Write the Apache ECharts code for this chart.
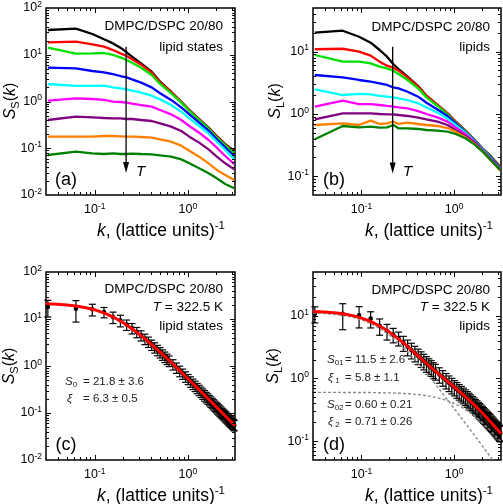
<!DOCTYPE html>
<html><head><meta charset="utf-8">
<script src="https://cdn.jsdelivr.net/npm/echarts@6.0.0/dist/echarts.min.js"></script>
<style>html,body{margin:0;padding:0;background:#fff}#c{width:503px;height:504px}</style>
</head><body><div id="c"></div>
<script>
// ---------- data ----------
// sampled wave numbers for panels (a) and (b)
const kS = [0.0314,0.0628,0.0942,0.1257,0.1571,0.1885,0.2199,0.2513,0.3142,0.4084,0.5027,0.6597,0.8482,1.0367,1.3195,1.6650,2.0420,2.5133,3.1416];
// panel (a) S_S(k), temperature increasing black -> dark green
const aBlack   = [33.8,36.1,27.8,21.4,17.5,14.2,11.3,9.1,6.55,4.34,2.66,1.62,0.99,0.657,0.422,0.276,0.183,0.123,0.088];
const aRed     = [18.4,19.05,16.7,14.9,12.6,10.7,9.4,7.98,6.14,4.14,2.57,1.60,0.976,0.647,0.415,0.271,0.180,0.119,0.0843];
const aGreen   = [14.2,10.55,10.7,10.9,9.88,8.80,7.72,6.77,5.29,3.69,2.37,1.50,0.944,0.626,0.402,0.262,0.171,0.115,0.0804];
const aBlue    = [5.29,5.12,4.49,4.21,3.87,3.51,3.29,2.98,2.53,2.01,1.50,1.08,0.750,0.531,0.352,0.238,0.155,0.105,0.0683];
const aCyan    = [2.37,2.15,2.15,2.18,2.01,1.91,1.82,1.70,1.55,1.33,1.11,0.841,0.606,0.436,0.299,0.208,0.138,0.0918,0.0579];
const aMagenta = [1.04,1.17,1.13,1.08,0.992,0.976,0.944,0.899,0.841,0.775,0.658,0.531,0.402,0.299,0.215,0.150,0.103,0.0683,0.0460];
const aPurple  = [0.402,0.474,0.458,0.444,0.436,0.436,0.422,0.422,0.402,0.383,0.341,0.290,0.234,0.177,0.132,0.0948,0.0661,0.0476,0.0354];
const aOrange  = [0.177,0.177,0.177,0.183,0.183,0.180,0.177,0.177,0.174,0.168,0.155,0.138,0.1136,0.0888,0.0661,0.0476,0.0343,0.0268,0.0209];
const aDkGreen = [0.0717,0.0845,0.0778,0.0753,0.0778,0.0753,0.0753,0.0765,0.0753,0.0741,0.0706,0.0661,0.0579,0.0476,0.0372,0.0291,0.0227,0.0172,0.0139];
// panel (b) S_L(k)
const bBlack   = [20.1,21.6,17.3,13.9,10.6,8.28,6.32,5.25,3.96,2.80,1.96,1.39,1.02,0.751,0.538,0.381,0.274,0.206,0.142];
const bRed     = [10.9,11.1,9.97,8.60,6.89,5.94,5.52,4.94,3.86,2.74,1.94,1.39,1.02,0.751,0.538,0.381,0.274,0.201,0.139];
const bGreen   = [8.81,6.89,6.89,6.48,5.72,5.38,4.94,4.37,3.50,2.57,1.84,1.34,0.984,0.723,0.532,0.377,0.270,0.199,0.137];
const bBlue    = [4.21,3.86,3.50,3.29,3.09,2.91,2.67,2.57,2.27,1.89,1.51,1.18,0.926,0.706,0.513,0.372,0.267,0.196,0.134];
const bCyan    = [2.48,2.01,2.09,2.06,1.94,1.89,1.84,1.78,1.67,1.48,1.27,1.05,0.839,0.664,0.500,0.363,0.264,0.191,0.131];
const bMagenta = [1.31,1.63,1.44,1.44,1.39,1.34,1.31,1.27,1.23,1.11,0.997,0.881,0.751,0.609,0.476,0.354,0.257,0.187,0.129];
const bPurple  = [0.818,1.02,1.02,1.02,0.997,0.984,0.984,0.960,0.926,0.870,0.818,0.751,0.664,0.552,0.442,0.346,0.254,0.182,0.129];
const bOrange  = [0.664,0.706,0.664,0.779,0.689,0.706,0.751,0.689,0.723,0.689,0.664,0.640,0.594,0.519,0.421,0.329,0.248,0.178,0.123];
const bDkGreen = [0.391,0.640,0.609,0.624,0.601,0.609,0.664,0.587,0.587,0.573,0.552,0.538,0.519,0.476,0.406,0.321,0.245,0.178,0.126];

// panels (c),(d): data points with error bars at T = 322.5 K
const kPts = [0.0314,0.0628,0.0942,0.1257,0.1571,0.1885,0.2199,0.2513,0.2827,0.3142,0.3456,0.3770,0.4084,0.4398,0.4712,0.5027,0.5341,0.5655,0.5969,0.6283,
  0.6912,0.7540,0.8168,0.8796,0.9425,1.0053,1.0681,1.1310,1.1938,1.2566,
  1.3195,1.3823,1.4451,1.5080,1.5708,1.6336,1.6965,1.7593,1.8221,1.8850,1.9478,2.0106,2.0735,2.1363,2.1991,2.2619,2.3248,2.3876,2.4504,2.5133,2.5761,2.6389,2.7018,2.7646,2.8274,2.8903,2.9531,3.0159,3.0788,3.1416];
const cVal = [18.0,16.6,16.1,14.1,11.0,9.4,7.6,6.4,5.3,4.5,3.8,3.3,2.85,2.5,2.2,1.97,1.76,1.58,1.43,1.30,
  1.09,0.925,0.79,0.69,0.60,0.53,0.47,0.42,0.38,0.342,
  0.311,0.284,0.260,0.239,0.220,0.204,0.189,0.176,0.164,0.1535,0.144,0.135,0.127,0.120,0.113,0.107,0.101,0.096,0.091,0.0866,0.0825,0.0786,0.075,0.0716,0.0685,0.0656,0.0628,0.0602,0.0578,0.0555];
const cErr = [7,8,4.5,3.5,3.0,2.6,1.9,1.6,1.3,1.1,0.95,0.82,0.71,0.62,0.55,0.49,0.44,0.40,0.36,0.33,
  0.27,0.23,0.2,0.17,0.15,0.13,0.118,0.105,0.095,0.085,
  0.078,0.071,0.065,0.06,0.055,0.051,0.047,0.044,0.041,0.038,0.036,0.034,0.032,0.03,0.028,0.027,0.025,0.024,0.023,0.022,0.021,0.0197,0.0188,0.0179,0.0171,0.0164,0.0157,0.015,0.0145,0.0139];
const dVal = [10.8,10.8,10.2,9.0,6.9,5.7,5.0,4.4,3.7,3.2,2.85,2.55,2.3,2.08,1.9,1.74,1.61,1.5,1.39,1.31,
  1.16,1.04,0.94,0.857,0.787,0.726,0.673,0.626,0.584,0.547,
  0.513,0.482,0.454,0.428,0.404,0.383,0.362,0.344,0.326,0.310,0.295,0.281,0.268,0.256,0.245,0.234,0.224,0.215,0.206,0.197,0.190,0.182,0.175,0.168,0.162,0.156,0.150,0.145,0.140,0.135];
const dErr = [3.1,4.8,3.8,2.6,2.0,1.6,1.3,1.1,1.0,0.9,0.8,0.71,0.64,0.58,0.53,0.49,0.45,0.42,0.39,0.37,
  0.32,0.29,0.26,0.24,0.22,0.2,0.19,0.175,0.163,0.153,
  0.144,0.135,0.127,0.12,0.113,0.107,0.101,0.096,0.091,0.087,0.083,0.079,0.075,0.072,0.069,0.066,0.063,0.06,0.058,0.055,0.053,0.051,0.049,0.047,0.045,0.044,0.042,0.041,0.039,0.038];
// fitted curves (read from the red / grey dashed lines)
const kFit = [0.03,0.035,0.04,0.05,0.06,0.07,0.08,0.09,0.1,0.11,0.12,0.135,0.15,0.17,0.2,0.23,0.26,0.3,0.35,0.4,0.45,0.5,0.6,0.7,0.8,0.9,1.0,1.12,1.25,1.4,1.6,1.8,2.0,2.25,2.5,2.8,3.2];
const cFit = [21.05,20.79,20.50,19.83,19.07,18.25,17.38,16.50,15.61,14.73,13.87,12.65,11.52,10.15,8.425,7.033,5.919,4.768,3.719,2.966,2.412,1.996,1.426,1.066,0.8257,0.6577,0.5358,0.4293,0.3460,0.2767,0.2125,0.1682,0.1365,0.1080,0.0875,0.0698,0.0535];
const dFit = [11.76,11.64,11.51,11.21,10.86,10.47,10.06,9.635,9.202,8.770,8.343,7.724,7.139,6.422,5.491,4.722,4.093,3.429,2.811,2.357,2.016,1.755,1.385,1.139,0.964,0.833,0.731,0.634,0.550,0.474,0.394,0.3325,0.2837,0.2360,0.1990,0.1646,0.1307];
const dComp1 = [11.16,11.05,10.91,10.61,10.26,9.87,9.46,9.04,8.61,8.17,7.75,7.13,6.55,5.83,4.90,4.14,3.51,2.86,2.25,1.80,1.47,1.22,0.877,0.658,0.510,0.407,0.332,0.266,0.215,0.172,0.132,0.105,0.0848,0.0671,0.0544,0.0434,0.0333];
const dComp2 = [0.5997,0.5996,0.5995,0.5992,0.5989,0.5985,0.5981,0.5976,0.5970,0.5964,0.5957,0.5945,0.5933,0.5914,0.5881,0.5844,0.5802,0.5740,0.5651,0.5552,0.5444,0.5328,0.5078,0.4812,0.4536,0.4260,0.3989,0.3676,0.3356,0.3018,0.2619,0.2279,0.1989,0.1689,0.1446,0.1212,0.0974];

// ---------- layout / style ----------
const FONT = "'Liberation Sans', Arial, Helvetica, sans-serif";
const X_MIN = 0.03, X_MAX = 3.2;
const colors = ['#000000','#ff0000','#00e000','#0000ff','#00ffff','#ff00ff','#800080','#ff8000','#008000'];
const panels = [
  {grid:{left:46, top:8, width:189, height:187}, yMin:0.01, yMax:100, ends:true},
  {grid:{left:313, top:8, width:188, height:187}, yMin:0.05, yMax:50, ends:false},
  {grid:{left:46, top:272, width:189, height:188}, yMin:0.01, yMax:100, ends:true},
  {grid:{left:313, top:272, width:188, height:188}, yMin:0.05, yMax:50, ends:false}
];

function mkRich(size, subSize, lh, color) {
  color = color || '#000';
  const base = {fontFamily: FONT, color: color, fill: color};
  return {
    r: Object.assign({}, base, {fontSize: size, lineHeight: lh}),
    i: Object.assign({}, base, {fontSize: size, fontStyle: 'italic', lineHeight: lh}),
    sub: Object.assign({}, base, {fontSize: subSize, lineHeight: Math.round(subSize), verticalAlign: 'bottom'}),
    sup: Object.assign({}, base, {fontSize: subSize, lineHeight: Math.round(subSize), verticalAlign: 'top'})
  };
}
const tickRich = {
  b: {fontSize: 12.5, fontFamily: FONT, color: '#000', lineHeight: 16},
  s: {fontSize: 8.5, fontFamily: FONT, color: '#000', lineHeight: 9, verticalAlign: 'top'}
};
function expLabel(v) {
  return '{b|10}{s|' + Math.round(Math.log10(v)) + '}';
}

function logTicks(min, max) {
  const out = [];
  for (let d = Math.floor(Math.log10(min)); d <= Math.ceil(Math.log10(max)); d++) {
    for (let m = 1; m <= 9; m++) {
      const v = m * Math.pow(10, d);
      if (v > min * 1.0001 && v < max * 0.9999) out.push([v, m === 1 ? 1 : 0]);
    }
  }
  return out;
}

function tickSeries(pi) {
  const p = panels[pi];
  const data = [];
  logTicks(X_MIN, X_MAX).forEach(t => data.push([t[0], p.yMin, t[1], 0]));
  logTicks(p.yMin, p.yMax).forEach(t => data.push([X_MIN, t[0], t[1], 1]));
  return {
    type: 'custom', xAxisIndex: pi, yAxisIndex: pi, silent: true, z: 20, data: data,
    renderItem: function (params, api) {
      const cs = params.coordSys;
      const pt = api.coord([api.value(0), api.value(1)]);
      const len = api.value(2) ? 5 : 3;
      const st = {stroke: '#000', lineWidth: 1};
      if (api.value(3) === 0) {
        const x = Math.round(pt[0]) + 0.5;
        return {type: 'group', children: [
          {type: 'line', shape: {x1: x, y1: cs.y + cs.height, x2: x, y2: cs.y + cs.height - len}, style: st},
          {type: 'line', shape: {x1: x, y1: cs.y, x2: x, y2: cs.y + len}, style: st}
        ]};
      }
      const y = Math.round(pt[1]) + 0.5;
      return {type: 'group', children: [
        {type: 'line', shape: {x1: cs.x, y1: y, x2: cs.x + len, y2: y}, style: st},
        {type: 'line', shape: {x1: cs.x + cs.width, y1: y, x2: cs.x + cs.width - len, y2: y}, style: st}
      ]};
    }
  };
}

function errSeries(pi, vals, errs) {
  return {
    type: 'custom', xAxisIndex: pi, yAxisIndex: pi, silent: true, z: 3,
    data: kPts.map((k, i) => [k, vals[i], errs[i]]),
    renderItem: function (params, api) {
      const k = api.value(0), v = api.value(1), e = api.value(2);
      const c = api.coord([k, v]);
      const hi = api.coord([k, v + e]);
      const lo = api.coord([k, v - e]);
      const w = 3.5;
      const st = {stroke: '#000', lineWidth: 1.2};
      return {type: 'group', children: [
        {type: 'line', shape: {x1: c[0], y1: hi[1], x2: c[0], y2: lo[1]}, style: st},
        {type: 'line', shape: {x1: c[0] - w, y1: hi[1], x2: c[0] + w, y2: hi[1]}, style: st},
        {type: 'line', shape: {x1: c[0] - w, y1: lo[1], x2: c[0] + w, y2: lo[1]}, style: st},
        {type: 'circle', shape: {cx: c[0], cy: c[1], r: 2.3}, style: {fill: '#000'}}
      ]};
    }
  };
}

// arrow annotation: [k, top value, tip value]
const arrowA = [0.217, 14.9, 0.0296];
const arrowB = [0.217, 11.97, 0.111];
function arrowSeries(pi, a) {
  return {
    type: 'custom', xAxisIndex: pi, yAxisIndex: pi, silent: true, z: 15,
    data: [a],
    renderItem: function (params, api) {
      const top = api.coord([api.value(0), api.value(1)]);
      const tip = api.coord([api.value(0), api.value(2)]);
      const x = top[0];
      return {type: 'group', children: [
        {type: 'line', shape: {x1: x, y1: top[1], x2: x, y2: tip[1] - 8}, style: {stroke: '#000', lineWidth: 1.3}},
        {type: 'polygon', shape: {points: [[x - 3, tip[1] - 11], [x + 3, tip[1] - 11], [x, tip[1]]]}, style: {fill: '#000'}}
      ]};
    }
  };
}

function lineSeries(pi, xs, ys, color, width, dashed, z) {
  return {
    type: 'line', xAxisIndex: pi, yAxisIndex: pi, symbol: 'none', silent: true, clip: true, z: z || 2,
    data: xs.map((k, i) => [k, ys[i]]),
    lineStyle: {color: color, width: width, type: dashed ? [3, 2] : 'solid'}
  };
}

const series = [];
[aBlack, aRed, aGreen, aBlue, aCyan, aMagenta, aPurple, aOrange, aDkGreen].forEach((arr, i) => series.push(lineSeries(0, kS, arr, colors[i], 2.3)));
[bBlack, bRed, bGreen, bBlue, bCyan, bMagenta, bPurple, bOrange, bDkGreen].forEach((arr, i) => series.push(lineSeries(1, kS, arr, colors[i], 2.3)));
series.push(errSeries(2, cVal, cErr));
series.push(lineSeries(2, kFit, cFit, '#ff0000', 3, false, 6));
series.push(errSeries(3, dVal, dErr));
series.push(lineSeries(3, kFit, dComp1, '#8c8c8c', 1.4, true, 5));
series.push(lineSeries(3, kFit, dComp2, '#8c8c8c', 1.4, true, 5));
series.push(lineSeries(3, kFit, dFit, '#ff0000', 3, false, 6));
series.push(arrowSeries(0, arrowA));
series.push(arrowSeries(1, arrowB));
for (let i = 0; i < 4; i++) series.push(tickSeries(i));

// ---------- text annotations ----------
const titleRich = mkRich(16, 11, 20);
const xTitleRich = mkRich(17.5, 11.5, 22);
const annRich = mkRich(13.5, 9, 16);
const statRich = mkRich(11.5, 8, 14, '#222');
function txt(x, y, text, rich, align, extra) {
  return Object.assign({
    type: 'text', x: x, y: y, z: 100, silent: true,
    style: {text: text, rich: rich, font: '13px ' + FONT, fill: '#000',
      align: align || 'left', verticalAlign: 'middle', textAlign: align || 'left', textVerticalAlign: 'middle'}
  }, extra || {});
}
const yTitleS = '{i|S}{sub|S}{r|(}{i|k}{r|)}';
const yTitleL = '{i|S}{sub|L}{r|(}{i|k}{r|)}';
const xTitle = '{i|k}{r|, (lattice units)}{sup|-1}';
const graphic = [
  // axis titles
  txt(11, 101, yTitleS, titleRich, 'center', {rotation: Math.PI / 2}),
  txt(276, 101, yTitleL, titleRich, 'center', {rotation: Math.PI / 2}),
  txt(10, 366, yTitleS, titleRich, 'center', {rotation: Math.PI / 2}),
  txt(274, 366, yTitleL, titleRich, 'center', {rotation: Math.PI / 2}),
  txt(161, 231, xTitle, xTitleRich, 'center'),
  txt(429, 231, xTitle, xTitleRich, 'center'),
  txt(161, 496, xTitle, xTitleRich, 'center'),
  txt(429, 496, xTitle, xTitleRich, 'center'),
  // panel (a)
  txt(223, 26, '{r|DMPC/DSPC 20/80}', annRich, 'right'),
  txt(223, 47, '{r|lipid states}', annRich, 'right'),
  txt(66, 180, '{r|(a)}', mkRich(18, 12, 22), 'center'),
  txt(136, 172, '{i|T}', mkRich(15, 10, 18), 'left'),
  // panel (b)
  txt(490, 27, '{r|DMPC/DSPC 20/80}', annRich, 'right'),
  txt(490, 47, '{r|lipids}', annRich, 'right'),
  txt(334, 180, '{r|(b)}', mkRich(18, 12, 22), 'center'),
  txt(403, 172, '{i|T}', mkRich(15, 10, 18), 'left'),
  // panel (c)
  txt(223, 289, '{r|DMPC/DSPC 20/80}', annRich, 'right'),
  txt(223, 307, '{i|T}{r| = 322.5 K}', annRich, 'right'),
  txt(223, 326, '{r|lipid states}', annRich, 'right'),
  txt(66, 445, '{r|(c)}', mkRich(18, 12, 22), 'center'),
  txt(65, 382, '{i|S}{sub|0}', statRich, 'left'),
  txt(83, 382, '{r|= 21.8 ± 3.6}', statRich, 'left'),
  txt(67, 399, '{i|ξ}', statRich, 'left'),
  txt(83, 399, '{r|= 6.3 ± 0.5}', statRich, 'left'),
  // panel (d)
  txt(490, 290, '{r|DMPC/DSPC 20/80}', annRich, 'right'),
  txt(490, 307, '{i|T}{r| = 322.5 K}', annRich, 'right'),
  txt(490, 326, '{r|lipids}', annRich, 'right'),
  txt(334, 445, '{r|(d)}', mkRich(18, 12, 22), 'center'),
  txt(327, 360, '{i|S}{sub|01}', statRich, 'left'),
  txt(345, 360, '{r|= 11.5 ± 2.6}', statRich, 'left'),
  txt(328, 378, '{i|ξ}{sub| 1}', statRich, 'left'),
  txt(345, 378, '{r|= 5.8 ± 1.1}', statRich, 'left'),
  txt(327, 405, '{i|S}{sub|02}', statRich, 'left'),
  txt(345, 405, '{r|= 0.60 ± 0.21}', statRich, 'left'),
  txt(328, 422, '{i|ξ}{sub| 2}', statRich, 'left'),
  txt(345, 422, '{r|= 0.71 ± 0.26}', statRich, 'left')
];

const option = {
  animation: false,
  backgroundColor: '#ffffff',
  grid: panels.map(p => Object.assign({show: true, borderColor: '#000', borderWidth: 1.5,
    backgroundColor: 'transparent', containLabel: false, outerBoundsMode: 'none'}, p.grid)),
  xAxis: panels.map((p, i) => ({
    type: 'log', logBase: 10, gridIndex: i, min: X_MIN, max: X_MAX,
    axisLine: {show: false}, axisTick: {show: false}, minorTick: {show: false},
    splitLine: {show: false}, minorSplitLine: {show: false},
    axisLabel: {formatter: expLabel, rich: tickRich, margin: 7, interval: 0,
      showMinLabel: false, showMaxLabel: false}
  })),
  yAxis: panels.map((p, i) => ({
    type: 'log', logBase: 10, gridIndex: i, min: p.yMin, max: p.yMax,
    axisLine: {show: false}, axisTick: {show: false}, minorTick: {show: false},
    splitLine: {show: false}, minorSplitLine: {show: false},
    axisLabel: {formatter: expLabel, rich: tickRich, margin: 4, interval: 0,
      showMinLabel: p.ends, showMaxLabel: p.ends}
  })),
  series: series,
  graphic: graphic
};
const chart = echarts.init(document.getElementById('c'), null, {renderer: 'canvas'});
chart.setOption(option);
</script>
</body></html>
